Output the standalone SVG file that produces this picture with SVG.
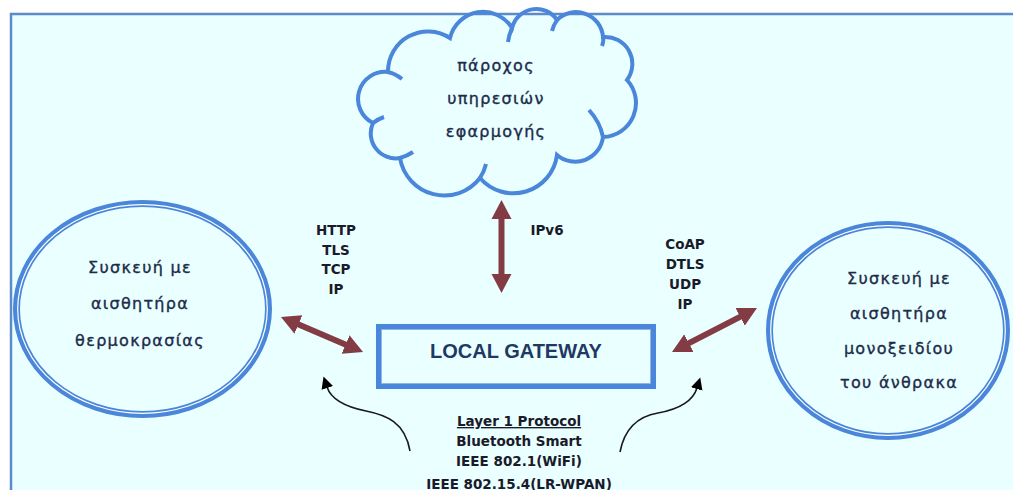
<svg xmlns="http://www.w3.org/2000/svg" width="1013" height="490" viewBox="0 0 1013 490">
<style>
.frame{fill:#EAFFFF;stroke:#5B8BC9;stroke-width:2.5}
.shape{fill:none;stroke:#4A86D9}
.inner{fill:none;stroke:#FFFFFF;stroke-width:1.2}
.node{font-family:"DejaVu Sans",Verdana,sans-serif;font-size:16px;fill:#1C2B4A;stroke:#1C2B4A;stroke-width:0.35;text-anchor:middle;letter-spacing:1.3px}
.lbl{font-family:"DejaVu Sans",Verdana,sans-serif;font-size:13.5px;font-weight:bold;fill:#1A1A2A;text-anchor:middle}
.gw{font-family:"Liberation Sans",Arial,sans-serif;font-size:20px;font-weight:bold;fill:#1F3864;text-anchor:middle}
.thick{stroke:#833C44;stroke-width:6;fill:none}
.thin{stroke:#1A1A1A;stroke-width:1.6;fill:none}
</style>
<defs>
<marker id="bigHead" markerUnits="userSpaceOnUse" markerWidth="22" markerHeight="24" refX="1" refY="10" orient="auto-start-reverse" viewBox="0 0 22 20">
<path d="M0,0 L19,10 L0,20 z" fill="#833C44"/>
</marker>
<marker id="smallHead" markerUnits="userSpaceOnUse" markerWidth="14" markerHeight="14" refX="1" refY="6" orient="auto" viewBox="0 0 14 12">
<path d="M0,0 L12,6 L0,12 z" fill="#000000"/>
</marker>
</defs>
<rect x="0" y="0" width="1013" height="490" fill="#FFFFFF"/>
<rect class="frame" x="11" y="14" width="1010" height="490"/>

<g id="cloud">
<path class="shape" stroke-width="4" fill="#EAFFFF" d="M373,123 A27,27 0 0 1 388,72 A40,40 0 0 1 450,38 A34,34 0 0 1 512,28 A25,25 0 0 1 557,20 A27,27 0 0 1 603,37 A27,27 0 0 1 627,80 A34,34 0 0 1 603,137 A28,28 0 0 1 557,155 A44,44 0 0 1 480,178 A45,45 0 0 1 400,158 A25,25 0 0 1 373,123 Z"/>
<path class="shape" stroke-width="4" d="M388,72 Q396,74 402,79 M512,28 Q509,35 508,42 M557,20 Q553,26 552,31 M603,37 Q604,41 602,46 M603,137 Q600,122 589,110 M480,178 Q484,172 486,164 M400,158 Q407,156 413,152 M373,123 Q378,119 384,117"/>
<text class="node" x="496" y="71">πάροχος</text>
<text class="node" x="496" y="104">υπηρεσιών</text>
<text class="node" x="496" y="137">εφαρμογής</text>
</g>

<g id="temp-device">
<ellipse class="shape" stroke-width="7" cx="142.5" cy="309" rx="126" ry="105.5"/>
<ellipse class="inner" cx="142.5" cy="309" rx="124.8" ry="104.3"/>
<text class="node" x="140" y="273">Συσκευή με</text>
<text class="node" x="140" y="309">αισθητήρα</text>
<text class="node" x="140" y="346">θερμοκρασίας</text>
</g>

<g id="co-device">
<ellipse class="shape" stroke-width="7" cx="888" cy="330.5" rx="118.5" ry="106"/>
<ellipse class="inner" cx="888" cy="330.5" rx="117.3" ry="104.8"/>
<text class="node" x="899" y="284">Συσκευή με</text>
<text class="node" x="899" y="319">αισθητήρα</text>
<text class="node" x="899" y="354">μονοξειδίου</text>
<text class="node" x="899" y="388">του άνθρακα</text>
</g>

<g id="gateway">
<rect class="shape" stroke-width="6" x="379" y="327" width="274" height="59"/>
<rect fill="none" stroke="#8FB4E8" stroke-width="1" x="381.5" y="329.5" width="269" height="54"/>
<text class="gw" x="516" y="358">LOCAL GATEWAY</text>
</g>

<g id="connectors">
<line class="thick" x1="501.5" y1="218" x2="501.5" y2="275" marker-start="url(#bigHead)" marker-end="url(#bigHead)"/>
<line class="thick" x1="297.5" y1="324.1" x2="346.5" y2="344.9" marker-start="url(#bigHead)" marker-end="url(#bigHead)"/>
<line class="thick" x1="688" y1="343.7" x2="741" y2="316.3" marker-start="url(#bigHead)" marker-end="url(#bigHead)"/>
<path class="thin" d="M410,451 C405,422 386,415 366,411 C346,407 331,399 327,387" marker-end="url(#smallHead)"/>
<path class="thin" d="M620,452 C625,426 640,416 658,413 C680,409 693,401 697,388" marker-end="url(#smallHead)"/>
</g>

<g id="labels">
<text class="lbl" x="336" y="235">HTTP</text>
<text class="lbl" x="336" y="255">TLS</text>
<text class="lbl" x="336" y="274">TCP</text>
<text class="lbl" x="336" y="294">IP</text>
<text class="lbl" x="547" y="235">IPv6</text>
<text class="lbl" x="685" y="249">CoAP</text>
<text class="lbl" x="685" y="269">DTLS</text>
<text class="lbl" x="685" y="289">UDP</text>
<text class="lbl" x="685" y="309">IP</text>
<text class="lbl" x="519" y="426" font-size="14" text-decoration="underline">Layer 1 Protocol</text>
<text class="lbl" x="519" y="446" font-size="14">Bluetooth Smart</text>
<text class="lbl" x="519" y="466" font-size="14">IEEE 802.1(WiFi)</text>
<text class="lbl" x="519" y="489" font-size="14">IEEE 802.15.4(LR-WPAN)</text>
</g>
</svg>
